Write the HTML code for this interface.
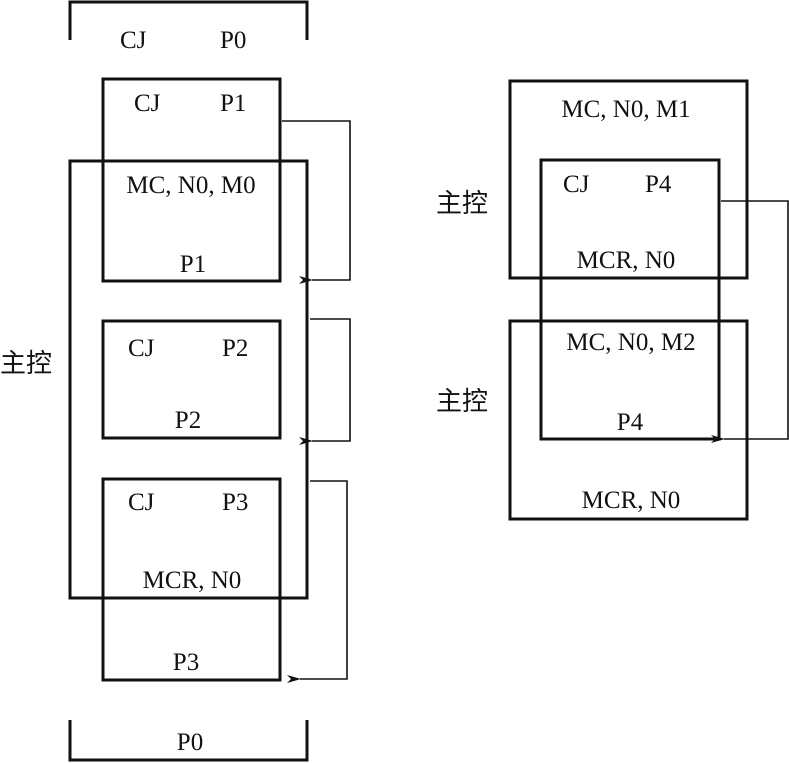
<!DOCTYPE html>
<html><head><meta charset="utf-8"><style>
html,body{margin:0;padding:0;background:#fff;}
svg{display:block;}
text{font-family:"Liberation Serif","Noto Serif CJK SC",serif;font-size:25px;fill:#111;}
.cn{font-family:"Liberation Sans","Noto Sans CJK SC",sans-serif;font-size:26px;}
</style></head><body>
<svg width="789" height="763" viewBox="0 0 789 763" xmlns="http://www.w3.org/2000/svg">
<defs><marker id="a" markerWidth="14" markerHeight="8" refX="1" refY="4" orient="auto" markerUnits="userSpaceOnUse"><path d="M0,4 L14,0 L10,4 L14,8 Z" fill="#111"/></marker></defs>
<g fill="none" stroke="#111" stroke-width="3">
<polyline points="70,40 70,2 307,2 307,40"/>
<rect x="103" y="79" width="177" height="202"/>
<rect x="70" y="161" width="237" height="437"/>
<rect x="103" y="321" width="177" height="117"/>
<rect x="103" y="479" width="177" height="201"/>
<polyline points="70,720 70,760 307,760 307,720"/>
<rect x="510" y="81" width="237" height="197"/>
<rect x="541" y="160" width="178" height="279"/>
<rect x="510" y="321" width="237" height="198"/>
</g>
<g fill="none" stroke="#111" stroke-width="1.6">
<polyline points="282,121 350,121 350,280 312,280" marker-end="url(#a)"/>
<polyline points="310,319 350,319 350,441 312,441" marker-end="url(#a)"/>
<polyline points="310,481 347,481 347,679 300,679" marker-end="url(#a)"/>
<polyline points="721,201 788,201 788,439 724,439" marker-end="url(#a)"/>
</g>
<text x="120" y="48">CJ</text><text x="220" y="48">P0</text>
<text x="134" y="111">CJ</text><text x="220" y="111">P1</text>
<text x="191" y="193" text-anchor="middle">MC, N0, M0</text>
<text x="193" y="272" text-anchor="middle">P1</text>
<text x="128" y="356">CJ</text><text x="222" y="356">P2</text>
<text x="188" y="428" text-anchor="middle">P2</text>
<text x="128" y="510">CJ</text><text x="222" y="510">P3</text>
<text x="192" y="588" text-anchor="middle">MCR, N0</text>
<text x="186" y="670" text-anchor="middle">P3</text>
<text x="190" y="750" text-anchor="middle">P0</text>
<text class="cn" x="0" y="372">主控</text>
<text x="626" y="117" text-anchor="middle">MC, N0, M1</text>
<text x="563" y="192">CJ</text><text x="645" y="192">P4</text>
<text x="626" y="268" text-anchor="middle">MCR,  N0</text>
<text x="631" y="350" text-anchor="middle">MC, N0, M2</text>
<text x="630" y="430" text-anchor="middle">P4</text>
<text x="631" y="508" text-anchor="middle">MCR, N0</text>
<text class="cn" x="436" y="212">主控</text>
<text class="cn" x="436" y="410">主控</text>
</svg>
</body></html>
